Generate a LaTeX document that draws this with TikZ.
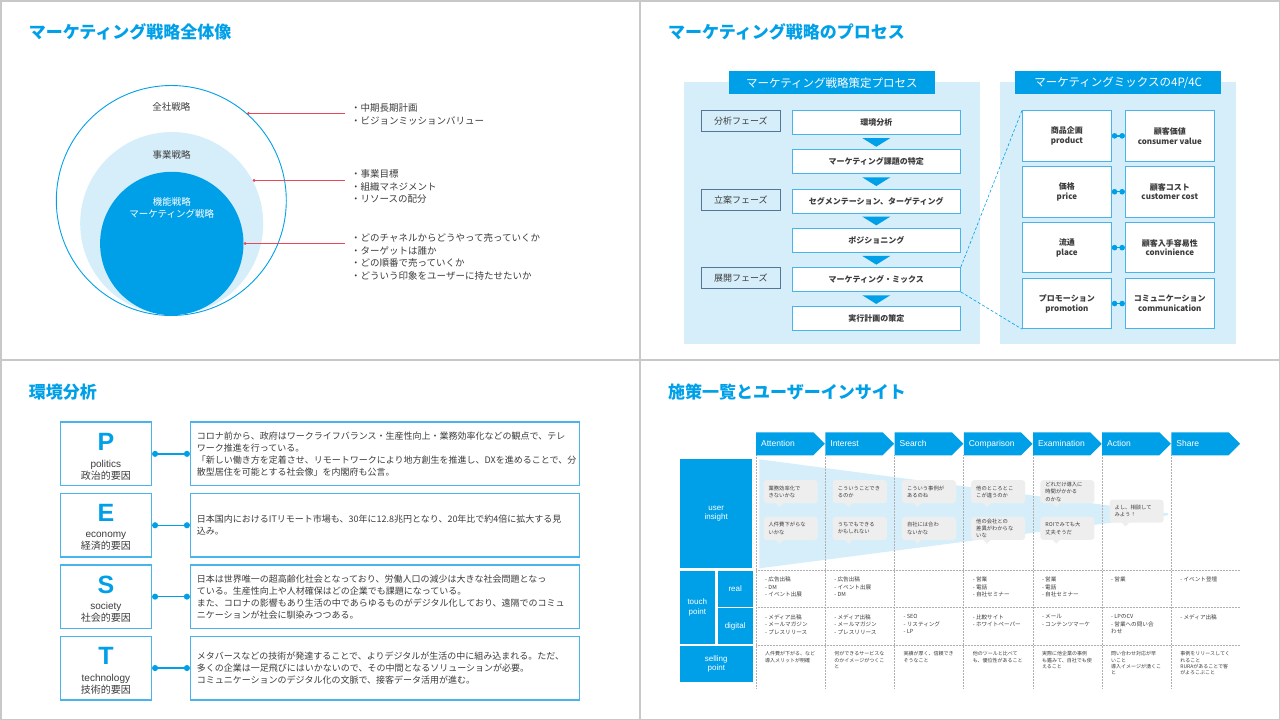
\documentclass[tikz,border=0pt]{standalone}
\usepackage{fontspec}
\setmainfont{Noto Sans CJK JP}
\newfontfamily\latin{Liberation Sans}
\usetikzlibrary{arrows.meta,positioning,shapes.symbols,calc}
\definecolor{mkblue} {RGB}{0,160,233}
\definecolor{mklight}{RGB}{213,238,250}
\definecolor{mkline} {RGB}{72,180,235}
\definecolor{mkslate}{RGB}{84,118,150}
\definecolor{mkred}  {RGB}{232,72,88}
\definecolor{mktext} {RGB}{60,60,60}
\definecolor{mkbub}  {RGB}{238,238,238}
\definecolor{mksep}  {RGB}{200,200,200}
\definecolor{mkdot}  {RGB}{175,175,175}
\newcommand{\fsz}[2]{\fontsize{#1}{#2}\selectfont}
\tikzset{
  ttl/.style={anchor=west,inner sep=0,font=\fsz{17}{20}\bfseries,text=mkblue},
  ring/.style={circle,inner sep=0},
  ringlbl/.style={inner sep=0,align=center,font=\fsz{9.5}{12},text=mktext},
  lst/.style={anchor=north west,inner sep=0,align=left,font=\fsz{9.5}{12.6},text=mktext},
  redln/.style={draw=mkred,line width=0.7pt,{Circle[length=2.8pt]}-,shorten >=6pt},
  bar/.style={fill=mkblue,text=white,minimum width=205.7,minimum height=23.3,
              inner sep=0,font=\fsz{11.5}{13}},
  phase/.style={draw=mkslate,fill=mklight,line width=1.1pt,minimum width=78.8,
                minimum height=21,inner sep=0,font=\fsz{9}{11},text=mktext},
  proc/.style={draw=mkline,fill=white,line width=0.8pt,minimum width=168.2,
               minimum height=24,inner sep=0,font=\fsz{8}{10}\bfseries,text=mktext},
  mix/.style={draw=mkline,fill=white,line width=0.8pt,minimum width=89,
              minimum height=50.3,inner sep=0,align=center,
              font=\fsz{8}{9.7}\bfseries,text=mktext},
  dotcon/.style={draw=mkblue,line width=1.3pt,{Circle[length=5.5pt]}-{Circle[length=5.5pt]}},
  dashcon/.style={draw=mkblue,densely dashed,line width=0.6pt},
  pkey/.style={draw=mkline,fill=white,line width=1.4pt,minimum width=91,
               minimum height=63.6,inner sep=0},
  pdesc/.style={pkey,minimum width=388.6,text width=376,inner xsep=6.3,
                align=left,font=\fsz{9}{12},text=mktext},
  plet/.style={inner sep=0,font=\latin\fsz{25}{25}\bfseries,text=mkblue},
  pcap/.style={inner sep=0,align=center,font=\fsz{10}{12},text=mktext},
  pline/.style={draw=mkblue,line width=1.4pt,{Circle[length=6pt]}-{Circle[length=6pt]}},
  hdr/.style={signal,signal to=east,signal from=nowhere,fill=mkblue,anchor=west,
              minimum height=23,inner xsep=5,inner ysep=0,text width=47.2,
              align=left,text=white,font=\latin\fsz{8.5}{10}},
  lbl/.style={fill=mkblue,inner sep=0,align=center,text=white,font=\latin\fsz{8}{9.6}},
  bub/.style={fill=mkbub,rounded corners=3pt,minimum width=54,minimum height=23,
              inner xsep=5,inner ysep=1,text width=44,align=left,
              font=\fsz{5.3}{7.2},text=mktext},
  cell/.style={anchor=north west,inner sep=0,align=left,font=\fsz{5.6}{7.3},text=mktext},
  sell/.style={cell,font=\fsz{5}{6.3}},
  grid/.style={draw=mkdot,densely dotted,line width=0.5pt},
}
\begin{document}
\begin{tikzpicture}[x=1pt,y=-1pt]
  \useasboundingbox (0,0) rectangle (1280,720);
  % panels
  \fill[mksep] (0,0) rectangle (1280,720);
  \fill[white] (1.5,1.5) rectangle (639,359);
  \fill[white] (641,1.5) rectangle (1278.5,359);
  \fill[white] (1.5,361) rectangle (639,718.5);
  \fill[white] (641,361) rectangle (1278.5,718.5);

  % --- overview
  \node[ttl] (t1) at (28.6,31.7) {マーケティング戦略全体像};
  \node[ring,draw=mkblue,line width=0.9pt,fill=white,minimum size=230] (zen) at (171.3,200.5) {};
  \node[ring,fill=mklight,minimum size=183] (jig) at (171.7,223.5) {};
  \node[ring,fill=mkblue,minimum size=143.4] (kin) at (171.8,243.5) {};
  \node[ringlbl] (zenl) at (171.3,107.3) {全社戦略};
  \node[ringlbl] (jigl) at (171.7,154.7) {事業戦略};
  \node[ringlbl,text=white] (kinl) at (171.8,208.3) {機能戦略\\マーケティング戦略};

  \node[lst] (l1) at (351,103.4) {・中期長期計画\\・ビジョンミッションバリュー};
  \node[lst] (l2) at (351,169.4) {・事業目標\\・組織マネジメント\\・リソースの配分};
  \node[lst] (l3) at (351,233.4) {・どのチャネルからどうやって売っていくか\\・ターゲットは誰か\\
    ・どの順番で売っていくか\\・どういう印象をユーザーに持たせたいか};
  \draw[redln] (zen.49) -- (zen.49 -| l1.west);
  \draw[redln] (jig.28.9) -- (jig.28.9 -| l2.west);
  \draw[redln] (kin.0) -- (kin.0 -| l3.west);

  % --- process
  \node[ttl] (t2) at (668,31.7) {マーケティング戦略のプロセス};
  \fill[mklight] (684,82) rectangle (980,344);
  \fill[mklight] (1000,82) rectangle (1236.3,344);
  \node[bar] (b1) at (831.9,82.65) {マーケティング戦略策定プロセス};
  \node[bar] (b2) at (1118.2,82.65) {マーケティングミックスの4P/4C};

  \node[proc] (an) at (876.3,122.35) {環境分析};
  \node[proc,below=14.5pt of an] (ka) {マーケティング課題の特定};
  \node[proc,below=14.5pt of ka] (se) {セグメンテーション、ターゲティング};
  \node[proc,below=14.5pt of se] (po) {ポジショニング};
  \node[proc,below=14.5pt of po] (mx) {マーケティング・ミックス};
  \node[proc,below=14.5pt of mx] (ji) {実行計画の策定};
  \foreach \a in {an,ka,se,po,mx}
    \fill[mkblue] ($(\a.south)+(-14,3.3)$) -- ($(\a.south)+(14,3.3)$) -- ($(\a.south)+(0,12)$) -- cycle;

  \node[phase,left=11pt of an.north west,anchor=north east] (f1) {分析フェーズ};
  \node[phase,left=11pt of se.north west,anchor=north east] (f2) {立案フェーズ};
  \node[phase,left=11pt of mx.north west,anchor=north east] (f3) {展開フェーズ};

  \node[mix] (pr) at (1066.9,135.85) {商品企画\\product};
  \node[mix,below=4.8pt of pr] (pc) {価格\\price};
  \node[mix,below=4.8pt of pc] (pl) {流通\\place};
  \node[mix,below=4.8pt of pl] (pm) {プロモーション\\promotion};
  \node[mix,right=13.1pt of pr] (cv) {顧客価値\\consumer value};
  \node[mix,right=13.1pt of pc] (cc) {顧客コスト\\customer cost};
  \node[mix,right=13.1pt of pl] (cn) {顧客入手容易性\\convinience};
  \node[mix,right=13.1pt of pm] (cm) {コミュニケーション\\communication};
  \draw[dotcon] (pr) -- (cv);
  \draw[dotcon] (pc) -- (cc);
  \draw[dotcon] (pl) -- (cn);
  \draw[dotcon] (pm) -- (cm);
  \draw[dashcon] (mx.north east) -- (pr.north west);
  \draw[dashcon] (mx.south east) -- (pm.south west);

  % --- PEST
  \node[ttl] (t3) at (28.6,391.7) {環境分析};
  \node[pkey] (P) at (105.9,453.85) {};
  \node[pkey,below=6.4pt of P] (E) {};
  \node[pkey,below=6.4pt of E] (S) {};
  \node[pkey,below=6.4pt of S] (T) {};
  \node[pdesc] (Pd) at (384.9,453.85) {コロナ前から、政府はワークライフバランス・生産性向上・業務効率化などの観点で、テレ\\
    ワーク推進を行っている。\\
    「新しい働き方を定着させ、リモートワークにより地方創生を推進し、DXを進めることで、分\\
    散型居住を可能とする社会像」を内閣府も公言。};
  \node[pdesc,below=6.4pt of Pd] (Ed) {日本国内におけるITリモート市場も、30年に12.8兆円となり、20年比で約4倍に拡大する見\\
    込み。};
  \node[pdesc,below=6.4pt of Ed] (Sd) {日本は世界唯一の超高齢化社会となっており、労働人口の減少は大きな社会問題となっ\\
    ている。生産性向上や人材確保はどの企業でも課題になっている。\\
    また、コロナの影響もあり生活の中であらゆるものがデジタル化しており、遠隔でのコミュ\\
    ニケーションが社会に馴染みつつある。};
  \node[pdesc,below=6.4pt of Sd] (Td) {メタバースなどの技術が発達することで、よりデジタルが生活の中に組み込まれる。ただ、\\
    多くの企業は一足飛びにはいかないので、その中間となるソリューションが必要。\\
    コミュニケーションのデジタル化の文脈で、接客データ活用が進む。};
  \node[plet] at ([yshift=11.9pt]P.center) {P};
  \node[plet] at ([yshift=11.9pt]E.center) {E};
  \node[plet] at ([yshift=11.9pt]S.center) {S};
  \node[plet] at ([yshift=11.9pt]T.center) {T};
  \node[pcap] at ([yshift=-16pt]P.center) {{\latin politics}\\政治的要因};
  \node[pcap] at ([yshift=-16pt]E.center) {{\latin economy}\\経済的要因};
  \node[pcap] at ([yshift=-16pt]S.center) {{\latin society}\\社会的要因};
  \node[pcap] at ([yshift=-16pt]T.center) {{\latin technology}\\技術的要因};
  \draw[pline] (P) -- (Pd);
  \draw[pline] (E) -- (Ed);
  \draw[pline] (S) -- (Sd);
  \draw[pline] (T) -- (Td);

  % --- measures
  \node[ttl] (t4) at (668,391.7) {施策一覧とユーザーインサイト};
  \fill[mklight] (759.3,459.3) -- (1168,513.3) -- (1168,515.3) -- (759.3,568.3) -- cycle;
  \foreach \i in {0,...,6}
    \draw[grid] ({756+69.2*\i},455.3) -- ({756+69.2*\i},688);
  \foreach \y in {570.3,607.7,645}
    \draw[grid] (756,\y) -- (1240,\y);

  \node[hdr] (hA) at (756,443.8) {Attention};
  \node[hdr] (hI) at (825.2,443.8) {Interest};
  \node[hdr] (hS) at (894.4,443.8) {Search};
  \node[hdr] (hC) at (963.6,443.8) {Comparison};
  \node[hdr] (hE) at (1032.8,443.8) {Examination};
  \node[hdr] (hX) at (1102,443.8) {Action};
  \node[hdr] (hH) at (1171.2,443.8) {Share};

  \node[lbl,minimum width=72.3,minimum height=109] (ui) at (716.2,513.8) {user\\insight};
  \node[lbl,minimum width=34.7,minimum height=73] (tp) at (697.3,607.5) {touch\\point};
  \node[lbl,minimum width=35,minimum height=35.7] (re) at (735.2,588.8) {real};
  \node[lbl,minimum width=35,minimum height=35.7] (di) at (735.2,626.2) {digital};
  \node[lbl,minimum width=72.7,minimum height=35.7] (sp) at (716.3,663.8) {selling\\point};

  \node[bub] (a1) at (790.6,491.7) {業務効率化で\\きないかな};
  \node[bub] (a2) at (790.6,528.4) {人件費下がらな\\いかな};
  \node[bub] (i1) at (859.8,491.7) {こういうことでき\\るのか};
  \node[bub] (i2) at (859.8,528.4) {うちでもできる\\かもしれない};
  \node[bub] (s1) at (929,491.7) {こういう事例が\\あるのね};
  \node[bub] (s2) at (929,528.4) {自社には合わ\\ないかな};
  \node[bub] (c1) at (998.2,491.7) {他のところとこ\\こが違うのか};
  \node[bub] (c2) at (998.2,528.4) {他の会社との\\差異がわからな\\いな};
  \node[bub] (e1) at (1067.4,491.7) {どれだけ導入に\\時間がかかる\\のかな};
  \node[bub] (e2) at (1067.4,528.4) {ROIでみても大\\丈夫そうだ};
  \node[bub] (x1) at (1136.6,511.2) {よし、相談して\\みよう！};
  \foreach \b in {a1,a2,i1,i2,s1,s2,c1,c2,e1,e2,x1}
    \fill[mkbub] ($(\b.south west)+(12,-0.5)$) -- ($(\b.south west)+(20,-0.5)$) -- ($(\b.south west)+(16,3.5)$) -- cycle;

  \node[cell] (rA) at (765,577) {- 広告出稿\\- DM\\- イベント出展};
  \node[cell] (rI) at (834.2,577) {- 広告出稿\\- イベント出展\\- DM};
  \node[cell] (rC) at (972.6,577) {- 営業\\- 電話\\- 自社セミナー};
  \node[cell] (rE) at (1041.8,577) {- 営業\\- 電話\\- 自社セミナー};
  \node[cell] (rX) at (1111,577) {- 営業};
  \node[cell] (rH) at (1180.2,577) {- イベント登壇};

  \node[cell] (dA) at (765,614.5) {- メディア出稿\\- メールマガジン\\- プレスリリース};
  \node[cell] (dI) at (834.2,614.5) {- メディア出稿\\- メールマガジン\\- プレスリリース};
  \node[cell] (dS) at (903.4,614.5) {- SEO\\- リスティング\\- LP};
  \node[cell] (dC) at (972.6,614.5) {- 比較サイト\\- ホワイトペーパー};
  \node[cell] (dE) at (1041.8,614.5) {- メール\\- コンテンツマーケ};
  \node[cell] (dX) at (1111,614.5) {- LPのCV\\- 営業への問い合\\わせ};
  \node[cell] (dH) at (1180.2,614.5) {- メディア出稿};

  \node[sell] (sA) at (765,651.5) {人件費が下がる、など\\導入メリットが明確};
  \node[sell] (sI) at (834.2,651.5) {何ができるサービスな\\のかイメージがつくこ\\と};
  \node[sell] (sS) at (903.4,651.5) {実績が厚く、信頼でき\\そうなこと};
  \node[sell] (sC) at (972.6,651.5) {他のツールと比べて\\も、優位性があること};
  \node[sell] (sE) at (1041.8,651.5) {実際に他企業の事例\\も鑑みて、自社でも使\\えること};
  \node[sell] (sX) at (1111,651.5) {問い合わせ対応が早\\いこと\\導入イメージが湧くこ\\と};
  \node[sell] (sH) at (1180.2,651.5) {事例をリリースしてく\\れること\\RURAがあることで客\\がよろこぶこと};
\end{tikzpicture}
\end{document}
